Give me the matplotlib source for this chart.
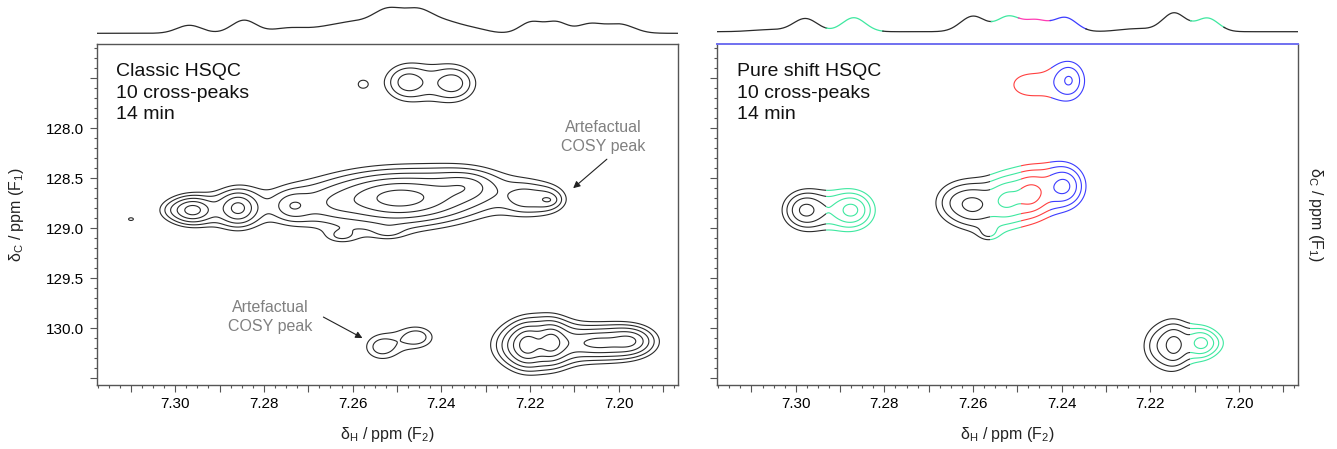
import numpy as np
import matplotlib
matplotlib.use('Agg')
import matplotlib.pyplot as plt
from matplotlib.patches import Rectangle
from matplotlib.ticker import MultipleLocator, FuncFormatter

plt.rcParams['font.family'] = ['Liberation Sans', 'DejaVu Sans']
plt.rcParams['mathtext.fontset'] = 'custom'
plt.rcParams['mathtext.rm'] = 'Liberation Sans'
plt.rcParams['mathtext.it'] = 'Liberation Sans:italic'
plt.rcParams['mathtext.bf'] = 'Liberation Sans:bold'

# ---------------- data ----------------
x_range = (7.3177, 7.1866)        # delta H (ppm), reversed
y_range = (130.57, 127.16)        # delta C (ppm), reversed
contour_levels = [1.0, 1.4, 1.96, 2.74, 3.84, 5.38, 7.53]

# classic HSQC cross-peak components: dH, dC, amplitude, widths
classic_h = [7.2477, 7.2373, 7.2578,
             7.2960, 7.3005, 7.2858, 7.2735, 7.2495, 7.2640, 7.2345,
             7.2215, 7.2160, 7.2157,
             7.2625, 7.2520, 7.3100,
             7.2535, 7.2455,
             7.2207, 7.2151, 7.2170, 7.2235, 7.2050, 7.1975]
classic_c = [127.54, 127.55, 127.56,
             128.82, 128.82, 128.80, 128.78, 128.70, 128.76, 128.58,
             128.70, 128.71, 128.72,
             129.08, 129.04, 128.91,
             130.19, 130.09,
             130.17, 130.14, 130.16, 130.18, 130.15, 130.13]
classic_amp = [2.2, 2.2, 1.08,
               4.0, 0.8, 4.0, 2.0, 6.2, 1.0, 2.2,
               1.5, 1.6, 0.6,
               1.0, 0.8, 1.12,
               1.6, 1.6,
               4.0, 4.0, 1.8, 1.2, 3.3, 3.1]
classic_wh = [0.0034, 0.0034, 0.0012,
              0.0026, 0.0030, 0.0026, 0.0030, 0.0080, 0.0040, 0.0045,
              0.0030, 0.0028, 0.0012,
              0.0025, 0.0025, 0.0008,
              0.0030, 0.0028,
              0.0018, 0.0018, 0.0060, 0.0030, 0.0045, 0.0030]
classic_wc = [0.12, 0.12, 0.045,
              0.075, 0.080, 0.100, 0.100, 0.130, 0.110, 0.100,
              0.100, 0.090, 0.030,
              0.050, 0.050, 0.020,
              0.100, 0.080,
              0.100, 0.100, 0.130, 0.120, 0.085, 0.080]

# pure shift HSQC cross-peak components
pure_h = [7.2382, 7.2478,
          7.2978, 7.2874,
          7.2600, 7.2645, 7.2525, 7.2468, 7.2394, 7.2565,
          7.2146, 7.2085, 7.2185, 7.2060]
pure_c = [127.52, 127.565,
          128.82, 128.82,
          128.77, 128.74, 128.72, 128.66, 128.58, 129.05,
          130.17, 130.15, 130.18, 130.15]
pure_amp = [1.62, 1.1,
            2.9, 2.9,
            2.2, 1.1, 2.0, 2.3, 2.8, 0.9,
            2.3, 2.3, 1.25, 0.8]
pure_wh = [0.0024, 0.0060,
           0.0030, 0.0030,
           0.0032, 0.0035, 0.0028, 0.0026, 0.0028, 0.0015,
           0.0020, 0.0020, 0.0030, 0.0030]
pure_wc = [0.13, 0.18,
           0.115, 0.115,
           0.13, 0.14, 0.15, 0.14, 0.13, 0.05,
           0.13, 0.09, 0.16, 0.09]

# colour zones of the pure shift spectrum: dH left, dH right, dC top, dC bottom, colour
zone_h_left = [7.33, 7.2425, 7.33, 7.2931, 7.2790, 7.2562, 7.2491, 7.2427, 7.33, 7.2111]
zone_h_right = [7.2425, 7.18, 7.2931, 7.2790, 7.2562, 7.2491, 7.2427, 7.18, 7.2111, 7.18]
zone_c_top = [127.0, 127.0, 128.1, 128.1, 128.1, 128.1, 128.1, 128.1, 129.6, 129.6]
zone_c_bottom = [128.1, 128.1, 129.6, 129.6, 129.6, 129.6, 129.6, 129.6, 130.7, 130.7]
zone_color = ['#ff4040', '#3c3cff', '#2a2a2a', '#3ee8a0', '#2a2a2a', '#3ee8a0',
              '#ff4040', '#3c3cff', '#2a2a2a', '#3ee8a0']

# 1D projections (peak position, height, width)
trace1_pos = [7.2968, 7.2845, 7.2745, 7.2650, 7.2590, 7.2520, 7.2453, 7.2390, 7.2320,
              7.2198, 7.2141, 7.2066, 7.1998]
trace1_height = [8, 13, 5, 6, 8, 22, 19, 11, 3, 11, 11, 9, 9]
trace1_width = [0.0028, 0.0028, 0.0038, 0.0045, 0.0038, 0.0034, 0.0032, 0.0040, 0.0030,
                0.0025, 0.0025, 0.0028, 0.0032]

trace2_pos = [7.2978, 7.2869, 7.2600, 7.2520, 7.2458, 7.2392, 7.2146, 7.2071, 7.2230, 7.3060]
trace2_height = [13, 14, 15.5, 15, 11, 14, 18.5, 13.5, 3, 2]
trace2_width = [0.0027, 0.0026, 0.0028, 0.0026, 0.0026, 0.0026, 0.0026, 0.0025, 0.004, 0.004]

seg_left = [7.33, 7.2931, 7.2803, 7.2558, 7.2497, 7.2425, 7.2345, 7.2109, 7.2033]
seg_right = [7.2931, 7.2803, 7.2558, 7.2497, 7.2425, 7.2345, 7.2109, 7.2033, 7.18]
seg_color = ['#2a2a2a', '#3ee8a0', '#2a2a2a', '#3ee8a0', '#ff3cb4', '#3c3cff',
             '#2a2a2a', '#3ee8a0', '#2a2a2a']

# arrows of the annotations (tail dH, tail dC, tip dH, tip dC) and text centres
arrow_tail_h = [7.2027, 7.2666]
arrow_tail_c = [128.31, 129.89]
arrow_tip_h = [7.2103, 7.2578]
arrow_tip_c = [128.60, 130.10]
note_h = [7.2036, 7.2785]
note_c = [128.09, 129.89]

# ---------------- helpers ----------------
xs = np.linspace(x_range[0], x_range[1], 800)
ys = np.linspace(y_range[1], y_range[0], 800)
X, Y = np.meshgrid(xs, ys)


def field(hs, cs, amps, whs, wcs):
    Z = np.zeros_like(X)
    for h, c, a, wh, wc in zip(hs, cs, amps, whs, wcs):
        r = np.sqrt(((X - h) / wh) ** 2 + ((Y - c) / wc) ** 2)
        Z += a / np.cosh(r)
    return Z


def trace(pos, hts, wds, x):
    t = np.zeros_like(x)
    for p, h, w in zip(pos, hts, wds):
        t += h * np.exp(-0.5 * ((x - p) / w) ** 2)
    return t


def xfmt(v, p):
    k = int(round(v * 100))
    return f"{v:.2f}" if k % 2 == 0 else ""


def yfmt(v, p):
    return f"{v:.1f}" if 127.9 < v < 130.1 else ""


def style_axes(ax, show_ylabels):
    ax.set_xlim(*x_range)
    ax.set_ylim(*y_range)
    ax.xaxis.set_major_locator(MultipleLocator(0.01))
    ax.xaxis.set_minor_locator(MultipleLocator(0.0025))
    ax.yaxis.set_major_locator(MultipleLocator(0.5))
    ax.yaxis.set_minor_locator(MultipleLocator(0.1))
    ax.xaxis.set_major_formatter(FuncFormatter(xfmt))
    if show_ylabels:
        ax.yaxis.set_major_formatter(FuncFormatter(yfmt))
    else:
        ax.yaxis.set_major_formatter(FuncFormatter(lambda v, p: ""))
    ax.tick_params(which='major', direction='out', length=5, width=0.8,
                   color='#555555', labelsize=11, pad=4, top=False, right=False)
    ax.tick_params(which='minor', direction='out', length=2.5, width=0.8,
                   color='#555555', top=False, right=False)
    for s in ax.spines.values():
        s.set_color('#555555')
        s.set_linewidth(1.0)


fig = plt.figure(figsize=(13.37, 4.49), dpi=100)

W, H = 1337.0, 449.0
ax_l = fig.add_axes([96.7 / W, 1 - 385 / H, 581.6 / W, 340.7 / H])
ax_r = fig.add_axes([717.3 / W, 1 - 385 / H, 581.0 / W, 340.7 / H])
sp_l = fig.add_axes([96.7 / W, 1 - 44 / H, 581.6 / W, 44 / H])
sp_r = fig.add_axes([717.3 / W, 1 - 44 / H, 581.0 / W, 44 / H])

# left: classic HSQC
Z1 = field(classic_h, classic_c, classic_amp, classic_wh, classic_wc)
ax_l.contour(X, Y, Z1, levels=contour_levels, colors='#2a2a2a', linewidths=0.8)
style_axes(ax_l, True)

# right: pure shift HSQC, coloured by zone
Z2 = field(pure_h, pure_c, pure_amp, pure_wh, pure_wc)
for xl, xr, yt, yb, col in zip(zone_h_left, zone_h_right, zone_c_top, zone_c_bottom, zone_color):
    cs = ax_r.contour(X, Y, Z2, levels=contour_levels, colors=col, linewidths=0.8)
    rect = Rectangle((xr, yt), xl - xr, yb - yt, transform=ax_r.transData)
    cs.set_clip_path(rect)
style_axes(ax_r, False)
ax_r.spines['top'].set_color('#7070f0')
ax_r.spines['top'].set_linewidth(1.4)

# 1D traces
tx = np.linspace(x_range[0], x_range[1], 1500)
t1 = trace(trace1_pos, trace1_height, trace1_width, tx)
sp_l.plot(tx, t1, color='#2a2a2a', lw=0.9)
sp_l.set_xlim(*x_range)
sp_l.set_ylim(-10.7, 33.3)
sp_l.axis('off')

t2 = trace(trace2_pos, trace2_height, trace2_width, tx)
for xl, xr, col in zip(seg_left, seg_right, seg_color):
    m = (tx <= xl + 1e-4) & (tx >= xr - 1e-4)
    sp_r.plot(tx[m], t2[m], color=col, lw=0.9)
sp_r.set_xlim(*x_range)
sp_r.set_ylim(-12.3, 31.7)
sp_r.axis('off')

# texts
ax_l.text(0.0327, 0.944, "Classic HSQC\n10 cross-peaks\n14 min", transform=ax_l.transAxes,
          ha='left', va='top', fontsize=14, linespacing=1.33, color='#111111')
ax_r.text(0.0346, 0.944, "Pure shift HSQC\n10 cross-peaks\n14 min", transform=ax_r.transAxes,
          ha='left', va='top', fontsize=14, linespacing=1.33, color='#111111')

for th, tc, hh, hc in zip(arrow_tail_h, arrow_tail_c, arrow_tip_h, arrow_tip_c):
    ax_l.annotate("", xy=(hh, hc), xytext=(th, tc),
                  arrowprops=dict(arrowstyle='-|>', color='#222222', lw=0.8,
                                  shrinkA=0, shrinkB=0, mutation_scale=10))
for nh, nc in zip(note_h, note_c):
    ax_l.text(nh, nc, "Artefactual\nCOSY peak", ha='center', va='center', fontsize=11.5,
              color='#808080', linespacing=1.3)

xlab = 'δ$_\\mathrm{H}$ / ppm (F$_\\mathrm{2}$)'
ylab = 'δ$_\\mathrm{C}$ / ppm (F$_\\mathrm{1}$)'
fig.text(387.5 / W, 1 - 435 / H, xlab, ha='center', va='center', fontsize=11.5, color='#222222')
fig.text(1007.8 / W, 1 - 435 / H, xlab, ha='center', va='center', fontsize=11.5, color='#222222')
fig.text(17 / W, 1 - 214.5 / H, ylab, ha='center', va='center', rotation=90, fontsize=11.5,
         color='#222222')
fig.text(1315 / W, 1 - 214.5 / H, ylab, ha='center', va='center', rotation=270, fontsize=11.5,
         color='#222222')

fig.savefig('out.png', dpi=100)
